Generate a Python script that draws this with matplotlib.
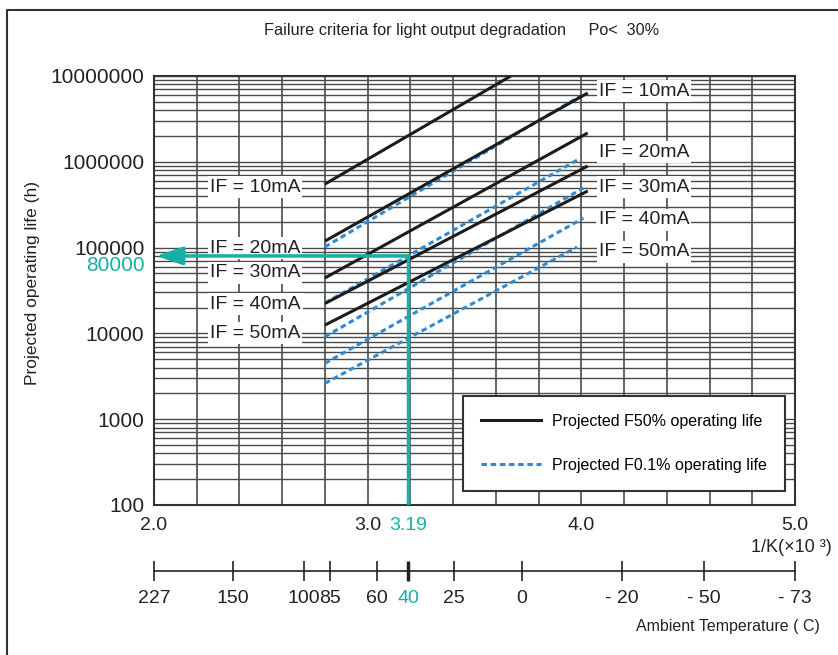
import matplotlib
matplotlib.use("Agg")
import matplotlib.pyplot as plt
from matplotlib.ticker import FixedLocator, MultipleLocator, LogLocator, NullFormatter
from matplotlib.lines import Line2D

plt.rcParams['font.family'] = ['Liberation Sans', 'DejaVu Sans']

# ---------------- data ----------------
currents = ["10mA", "20mA", "30mA", "40mA", "50mA"]
# Projected F50% operating life (solid): start / end points (x = 1/K x10^3, y = hours)
f50_x_start = [2.80, 2.80, 2.80, 2.80, 2.80]
f50_x_end = [3.67, 4.03, 4.03, 4.03, 4.03]
f50_y_start = [550000, 119000, 44300, 22300, 12500]
f50_y_end = [10000000, 6340000, 2170000, 893000, 457000]
# Projected F0.1% operating life (dashed)
f01_x_start = [2.80, 2.80, 2.80, 2.80, 2.80]
f01_x_end = [3.99, 3.99, 4.01, 4.01, 3.98]
f01_y_start = [102000, 22600, 9160, 4480, 2620]
f01_y_end = [5740000, 1080000, 496000, 221000, 101600]

# example read-off
example_x = 3.19
example_y = 80000

x_ticks = [2.0, 3.0, 4.0, 5.0]
x_tick_labels = ["2.0", "3.0", "4.0", "5.0"]
y_ticks = [100, 1000, 10000, 100000, 1000000, 10000000]
y_tick_labels = ["100", "1000", "10000", "100000", "1000000", "10000000"]

temp_labels = ["227", "150", "100", "85", "60", "40", "25", "0", "- 20", "- 50", "- 73"]
temp_pos = [2.0, 2.371, 2.703, 2.824, 3.045, 3.19, 3.403, 3.722, 4.190, 4.575, 5.0]

# label anchor positions (text placement)
left_label_x = 2.473
left_label_y = [508000, 98900, 50600, 22000, 10100]
right_label_x = 4.293
right_label_y = [6680000, 1300000, 508000, 210000, 88900]

TEAL = '#17b0a6'
BLUE = '#2e8bd3'
DARK = '#1c1c1c'
GRID = '#4a4a4a'

fig = plt.figure(figsize=(8.38, 6.55), dpi=100)
W, H = 838, 655
ax = fig.add_axes([154 / W, 1 - 505 / H, (795 - 154) / W, (505 - 76) / H])
ax.set_yscale('log')
ax.set_xlim(2.0, 5.0)
ax.set_ylim(100, 1e7)

# grid
ax.xaxis.set_major_locator(FixedLocator(x_ticks + [example_x]))
ax.set_xticklabels(x_tick_labels + ["3.19"])
ax.xaxis.set_minor_locator(MultipleLocator(0.2))
ax.xaxis.remove_overlapping_locs = False
ax.yaxis.set_major_locator(FixedLocator(y_ticks))
ax.set_yticklabels(y_tick_labels)
ax.yaxis.set_minor_locator(LogLocator(base=10, subs=range(2, 10)))
ax.yaxis.set_minor_formatter(NullFormatter())
ax.grid(False)
ax.grid(True, which='minor', axis='x', color=GRID, lw=1.2)
ax.grid(True, which='both', axis='y', color=GRID, lw=1.0)
ax.set_axisbelow(True)
ax.tick_params(which='both', length=0)
ax.tick_params(axis='y', labelsize=15, pad=7, colors='#222')
ax.tick_params(axis='x', labelsize=14, pad=9, colors='#222')
ax.get_xticklabels()[-1].set_color(TEAL)
for s in ax.spines.values():
    s.set_color('#333')
    s.set_linewidth(1.5)

# data lines
for i in range(len(currents)):
    ax.plot([f50_x_start[i], f50_x_end[i]], [f50_y_start[i], f50_y_end[i]],
            color=DARK, lw=2.2, solid_capstyle='butt', zorder=4)
    ax.plot([f01_x_start[i], f01_x_end[i]], [f01_y_start[i], f01_y_end[i]],
            color=BLUE, lw=2.2, ls=(0, (1.8, 1.2)), zorder=4)

# current labels
for i, c in enumerate(currents):
    for lx, ly in ((left_label_x, left_label_y[i]), (right_label_x, right_label_y[i])):
        ax.text(lx, ly, "IF = " + c, fontsize=14, ha='center', va='center', color='#222',
                zorder=3, bbox=dict(facecolor='white', edgecolor='none', pad=1.5))

# teal example
ax.plot([example_x, example_x], [100, example_y], color=TEAL, lw=2.5, zorder=5)
ax.annotate("", xy=(2.01, example_y), xytext=(example_x, example_y),
            arrowprops=dict(arrowstyle='-|>,head_length=1.6,head_width=0.55',
                            color=TEAL, lw=2.5, shrinkA=0, shrinkB=0), zorder=5)
ax.annotate("80000", xy=(0, example_y), xycoords=('axes fraction', 'data'),
            xytext=(-7, -7), textcoords='offset points', ha='right', va='center',
            fontsize=15, color=TEAL)

# legend
handles = [Line2D([], [], color=DARK, lw=2.2),
           Line2D([], [], color=BLUE, lw=2.2, ls=(0, (1.8, 1.2)))]
leg = ax.legend(handles, ["Projected F50% operating life", "Projected F0.1% operating life"],
                loc='lower right', bbox_to_anchor=(0.9844, 0.0326), borderaxespad=0,
                fontsize=11.5, handlelength=3.7, handletextpad=0.7, labelspacing=1.8,
                borderpad=1.15, fancybox=False, framealpha=1, edgecolor='#333')
leg.get_frame().set_linewidth(1.5)
leg.set_zorder(6)

# temperature axis
sec = ax.secondary_xaxis((505 - 571) / (505 - 76))
sec.set_xticks(temp_pos)
sec.set_xticklabels(temp_labels)
sec.tick_params(direction='inout', length=15, width=1.2, labelsize=14, pad=6, colors='#222')
sec.spines['bottom'].set_color('#222')
sec.spines['bottom'].set_linewidth(1.2)
idx = temp_labels.index("40")
sec.xaxis.get_major_ticks()[idx].tick1line.set_color(TEAL)
sec.xaxis.get_major_ticks()[idx].tick1line.set_markeredgewidth(2.5)
sec.get_xticklabels()[idx].set_color(TEAL)

# texts
fig.text(462 / W, 1 - 31 / H, "Failure criteria for light output degradation     Po<  30%",
         ha='center', va='center', fontsize=11.7, color='#222')
fig.text(33 / W, 1 - 283 / H, "Projected operating life (h)", rotation=90,
         ha='center', va='center', fontsize=12.5, color='#222')
fig.text(832 / W, 1 - 548 / H, "1/K(×10 ³)", ha='right', va='center', fontsize=13, color='#222')
fig.text(820 / W, 1 - 626 / H, "Ambient Temperature ( C)", ha='right', va='center',
         fontsize=11.5, color='#222')

# outer border
fig.add_artist(Line2D([7 / W, 7 / W, 1.0], [0, 1 - 10 / H, 1 - 10 / H],
                      transform=fig.transFigure, color='#333', lw=1.5))

fig.savefig("out.png", dpi=100)
